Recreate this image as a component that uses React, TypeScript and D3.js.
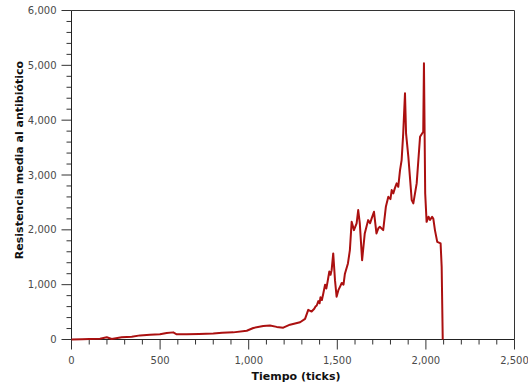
import React, { useRef, useEffect } from "react";
import * as d3 from "d3";

// ticks (x) and mean resistance (y)
const ticks = [
  0, 60, 100, 161, 199, 227, 283, 340, 387, 443, 499, 537, 574, 594, 650, 720, 800, 850, 913, 989,
  1026, 1082, 1120, 1158, 1195, 1233, 1290, 1318, 1336, 1355, 1370, 1377, 1384, 1393, 1400, 1405,
  1413, 1421, 1431, 1438, 1445, 1455, 1462, 1468, 1477, 1487, 1496, 1506, 1515, 1525, 1535, 1543,
  1560, 1571, 1581, 1594, 1609, 1618, 1627, 1640, 1655, 1674, 1685, 1694, 1707, 1721, 1732, 1740,
  1759, 1774, 1788, 1800, 1807, 1816, 1825, 1835, 1844, 1854, 1863, 1872, 1882, 1888, 1901, 1920,
  1929, 1948, 1967, 1985, 1989, 1996, 2004, 2015, 2023, 2035, 2042, 2051, 2064, 2083, 2089, 2095,
];
const resistance = [
  0, 5, 10, 15, 40, 10, 40, 50, 75, 85, 95, 120, 130, 95, 95, 100, 110, 125, 130, 160,
  210, 245, 255, 230, 215, 270, 315, 375, 540, 510, 560, 600, 620, 700, 660, 770,
  720, 840, 1000, 930, 1050, 1240, 1180, 1265, 1570, 1082, 780, 900, 960, 1030, 1000, 1200,
  1387, 1630, 2146, 1995, 2117, 2360, 2117, 1446, 1934, 2177, 2120, 2208, 2329, 1934, 2030, 2055,
  1995, 2420, 2602, 2560, 2725, 2665, 2760, 2847, 2785, 3090, 3272, 3760, 4490, 3760, 3332, 2542,
  2482, 2847, 3697, 3789, 5037, 2665, 2146, 2240, 2180, 2237, 2200, 1995, 1781, 1752, 1325, 0,
];

const xTicks = [0, 500, 1000, 1500, 2000, 2500];
const yTicks = [0, 1000, 2000, 3000, 4000, 5000, 6000];

const App = () => {
  const ref = useRef(null);

  useEffect(() => {
    const svgWidth = 528;
    const svgHeight = 385;
    const margin = { top: 10.5, right: 13.5, bottom: 45.5, left: 71.5 };
    const lineColor = "#ab1010";
    const fontColor = "#4a4a4a";
    const fontFamily = "DejaVu Sans, Verdana, sans-serif";

    const data = ticks.map((t, i) => ({ t, r: resistance[i] }));

    const svg = d3.select(ref.current)
      .attr("width", svgWidth)
      .attr("height", svgHeight);
    svg.selectAll("*").remove();

    const xScale = d3.scaleLinear()
      .domain([0, 2500])
      .range([margin.left, svgWidth - margin.right]);

    const yScale = d3.scaleLinear()
      .domain([0, 6000])
      .range([svgHeight - margin.bottom, margin.top]);

    // frame (top + right)
    svg.append("path")
      .attr("d", `M${xScale(0)},${yScale(6000)}H${xScale(2500)}V${yScale(0)}`)
      .attr("fill", "none")
      .attr("stroke", "#333")
      .attr("stroke-width", 1);

    // ticks, minor every 100 / 200
    const xMinor = d3.range(0, 2501, 100);
    const yMinor = d3.range(0, 6001, 200);

    svg.append("g")
      .selectAll("line")
      .data(xMinor)
      .join("line")
      .attr("x1", d => xScale(d))
      .attr("x2", d => xScale(d))
      .attr("y1", yScale(0))
      .attr("y2", d => yScale(0) + (d % 500 === 0 ? 10 : 5))
      .attr("stroke", "#333");

    svg.append("g")
      .selectAll("line")
      .data(yMinor)
      .join("line")
      .attr("y1", d => yScale(d))
      .attr("y2", d => yScale(d))
      .attr("x1", xScale(0))
      .attr("x2", d => xScale(0) - (d % 1000 === 0 ? 10 : 5))
      .attr("stroke", "#333");

    // axis lines
    svg.append("line")
      .attr("x1", xScale(0)).attr("x2", xScale(2500))
      .attr("y1", yScale(0)).attr("y2", yScale(0))
      .attr("stroke", "#222");
    svg.append("line")
      .attr("x1", xScale(0)).attr("x2", xScale(0))
      .attr("y1", yScale(0)).attr("y2", yScale(6000))
      .attr("stroke", "#222");

    const fmt = d3.format(",");

    // tick labels
    svg.append("g")
      .selectAll("text")
      .data(xTicks)
      .join("text")
      .attr("x", d => xScale(d))
      .attr("y", yScale(0) + 24)
      .attr("text-anchor", "middle")
      .style("font-family", fontFamily)
      .style("font-size", "10px")
      .style("fill", fontColor)
      .text(d => fmt(d));

    svg.append("g")
      .selectAll("text")
      .data(yTicks)
      .join("text")
      .attr("x", xScale(0) - 15)
      .attr("y", d => yScale(d))
      .attr("dy", "0.35em")
      .attr("text-anchor", "end")
      .style("font-family", fontFamily)
      .style("font-size", "10px")
      .style("fill", fontColor)
      .text(d => fmt(d));

    // axis titles
    svg.append("text")
      .attr("x", 296)
      .attr("y", 380)
      .attr("text-anchor", "middle")
      .style("font-family", fontFamily)
      .style("font-size", "11px")
      .style("font-weight", "bold")
      .style("fill", "#111")
      .text("Tiempo (ticks)");

    svg.append("text")
      .attr("transform", `translate(23,160) rotate(-90)`)
      .attr("text-anchor", "middle")
      .style("font-family", fontFamily)
      .style("font-size", "11px")
      .style("font-weight", "bold")
      .style("fill", "#111")
      .text("Resistencia media al antibiótico");

    // the series
    const line = d3.line()
      .x(d => xScale(d.t))
      .y(d => yScale(d.r));

    svg.append("path")
      .datum(data)
      .attr("fill", "none")
      .attr("stroke", lineColor)
      .attr("stroke-width", 2)
      .attr("stroke-linejoin", "round")
      .attr("d", line);
  }, []);

  return (
    <div style={{ position: "absolute", left: 0, top: 0 }}>
      <svg ref={ref} style={{ display: "block" }}></svg>
    </div>
  );
};

export default App;
